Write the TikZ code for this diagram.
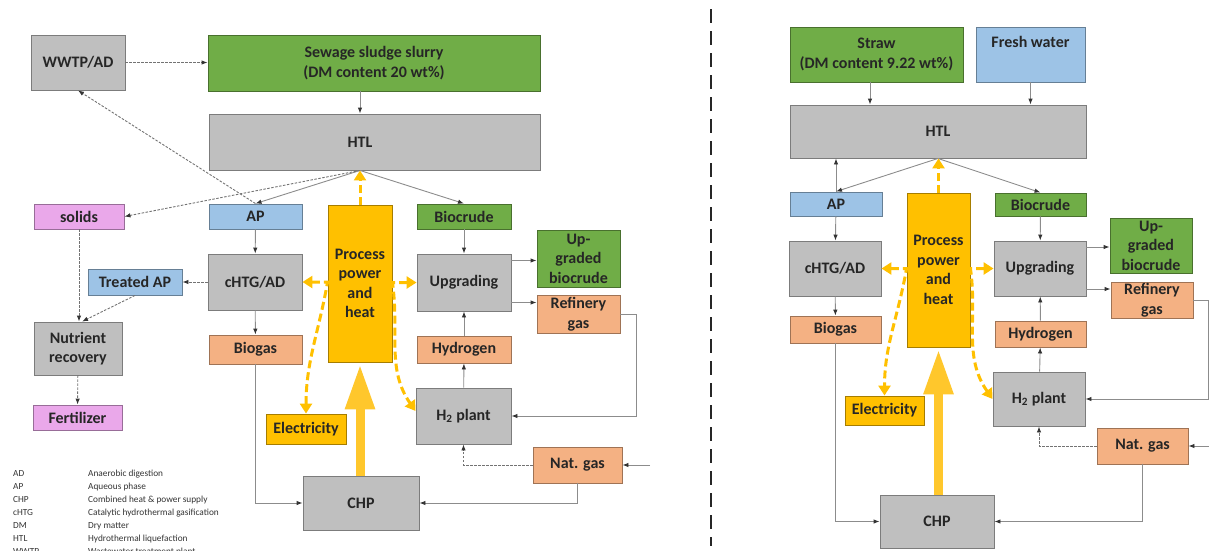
\documentclass[tikz,border=0pt]{standalone}
\usepackage{fontspec}
\setmainfont{Carlito}
\usepackage{tikz}
\usetikzlibrary{arrows.meta, positioning, calc}
\definecolor{boxgray}{HTML}{BFBFBF}
\definecolor{boxgreen}{HTML}{70AD47}
\definecolor{boxblue}{HTML}{9DC3E6}
\definecolor{boxpink}{HTML}{EAA8EA}
\definecolor{boxsalmon}{HTML}{F4B183}
\definecolor{boxyellow}{HTML}{FFC000}
\definecolor{heatarrow}{HTML}{FFC72C}

\tikzset{
  blk/.style={draw=#1!65!black, fill=#1, line width=0.9, inner sep=1,
    font=\fontsize{16}{19.5}\selectfont\bfseries, text=black!85, align=center},
  ftip/.tip={Latex[length=6,width=4.5,color=black!80]},
  htip/.tip={Triangle[length=10,width=12]},
  flowline/.style={draw=black!45, line width=0.9, -ftip},
  dotline/.style={draw=black!55, line width=0.9, dash pattern=on 2.5 off 1.5, -ftip},
  heatflow/.style={draw=boxyellow, line width=3, dash pattern=on 8 off 4},
  heatbig/.style={draw=heatarrow, line width=9, -{Triangle[length=45,width=28]}, shorten >=2},
  legtext/.style={anchor=west, inner sep=0, font=\fontsize{9.3}{11}\selectfont, text=black!80}
}

\begin{document}
\begin{tikzpicture}[x=1pt, y=1pt]
  \useasboundingbox (0,0) rectangle (1209,-550);

  %% sewage sludge case
  \node[blk=boxgray, minimum width=94, minimum height=55] (wwtp) at (78,-62.5) {WWTP/AD};
  \node[blk=boxgreen, minimum width=332, minimum height=56] (sludge) at (374,-63) {Sewage sludge slurry\\(DM content 20 wt\%)};
  \node[blk=boxgray, minimum width=331, minimum height=56] (htlL) at (374.5,-142) {HTL\hspace*{29pt}};
  \node[blk=boxpink, minimum width=90, minimum height=25] (solids) at (79,-216.5) {solids};
  \node[blk=boxblue, minimum width=93, minimum height=25] (apL) at (255.5,-216.5) {AP};
  \node[blk=boxyellow, minimum width=64, minimum height=157] (procL) at (360,-283.5) {Process\\power\\and\\heat};
  \node[blk=boxgreen, minimum width=94, minimum height=25] (biocL) at (464,-216.5) {Biocrude};
  \node[blk=boxgray, minimum width=94, minimum height=56] (chtgL) at (255,-282) {cHTG/AD};
  \node[blk=boxblue, minimum width=94, minimum height=26] (treated) at (135,-282) {Treated AP};
  \node[blk=boxgray, minimum width=88, minimum height=53] (nutrient) at (78,-348.5) {Nutrient\\recovery};
  \node[blk=boxpink, minimum width=89, minimum height=25] (fert) at (77.5,-417.5) {Fertilizer};
  \node[blk=boxgray, minimum width=94, minimum height=57] (upgL) at (464,-282.5) {Upgrading};
  \node[blk=boxgreen, minimum width=83, minimum height=57] (upbioL) at (578.5,-258.5) {Up-\\graded\\biocrude};
  \node[blk=boxsalmon, minimum width=83, minimum height=38] (refL) at (578.5,-314) {Refinery\\gas};
  \node[blk=boxsalmon, minimum width=93, minimum height=29] (biogasL) at (255.5,-349.5) {Biogas};
  \node[blk=boxsalmon, minimum width=94, minimum height=27] (hydL) at (464,-349.5) {Hydrogen};
  \node[blk=boxgray, minimum width=95, minimum height=56] (h2L) at (463.5,-416) {H\textsubscript{2} plant};
  \node[blk=boxyellow, minimum width=80, minimum height=30] (elecL) at (306,-429) {Electricity};
  \node[blk=boxsalmon, minimum width=89, minimum height=36] (natL) at (577.5,-465) {Nat. gas};
  \node[blk=boxgray, minimum width=116, minimum height=54] (chpL) at (361,-503) {CHP};
  \coordinate (htlLout) at (procL.north |- htlL.south);
  \coordinate (natinL) at (650,-465);

  \draw[dotline] (wwtp.east) -- (wwtp.east -| sludge.west);
  \draw[flowline] (sludge.south -| htlLout) -- (htlL.north -| htlLout);
  \draw[flowline] (htlLout) -- (apL.north);
  \draw[flowline] (htlLout) -- (biocL.north);
  \draw[dotline] (htlLout) -- (solids.east);
  \draw[dotline] (apL.north) -- (wwtp.south);
  \draw[heatflow, -htip] (procL.north) -- (htlLout);
  \draw[flowline] (apL) -- (chtgL);
  \draw[dotline] (chtgL) -- (treated);
  \draw[dotline] (solids.south) -- (solids.south |- nutrient.north);
  \draw[dotline] (treated.south) -- ([xshift=4]nutrient.north);
  \draw[dotline] (nutrient) -- (fert);
  \draw[flowline] (chtgL) -- (biogasL);
  \draw[flowline] (biogasL.south) |- (chpL.west);
  \draw[flowline] (biocL) -- (upgL);
  \draw[flowline] ([yshift=22]upgL.east) -- ([yshift=22]upgL.east -| upbioL.west);
  \draw[flowline] ([yshift=-20]upgL.east) -- ([yshift=-20]upgL.east -| refL.west);
  \draw[flowline] (refL.east) -- ++(16,0) |- (h2L.east);
  \draw[flowline] (hydL) -- (upgL);
  \draw[flowline] (h2L) -- (hydL);
  \draw[dotline] (natL.west) -| (h2L.south);
  \draw[flowline] (natinL) -- (natL.east);
  \draw[flowline] (natL.south) |- (chpL.east);
  \draw[heatbig] (chpL.north -| procL.south) -- (procL.south);
  \draw[heatflow, htip-htip] (chtgL.east) -- (procL.west |- chtgL.east) to[out=-100, in=90] (elecL.north);
  \draw[heatflow, htip-htip] (upgL.west) -- (procL.east |- upgL.west) to[out=-82, in=125] ([yshift=5]h2L.west);

  %% abbreviations
  \node[legtext] (abAD) at (13,-474) {AD};
  \node[legtext] (abADt) at (88,-474) {Anaerobic digestion};
  \node[legtext] (abAP) at (13,-487) {AP};
  \node[legtext] (abAPt) at (88,-487) {Aqueous phase};
  \node[legtext] (abCHP) at (13,-500) {CHP};
  \node[legtext] (abCHPt) at (88,-500) {Combined heat \& power supply};
  \node[legtext] (abcHTG) at (13,-513) {cHTG};
  \node[legtext] (abcHTGt) at (88,-513) {Catalytic hydrothermal gasification};
  \node[legtext] (abDM) at (13,-526) {DM};
  \node[legtext] (abDMt) at (88,-526) {Dry matter};
  \node[legtext] (abHTL) at (13,-539) {HTL};
  \node[legtext] (abHTLt) at (88,-539) {Hydrothermal liquefaction};
  \begin{scope}
    \clip (0,-544) rectangle (240,-550);
    \node[legtext] (abWWTP) at (13,-552) {WWTP};
    \node[legtext] (abWWTPt) at (88,-552) {Wastewater treatment plant};
  \end{scope}

  %% divider
  \draw[black!85, line width=2.5, dash pattern=on 14 off 8] (711,-9) -- (711,-546);

  %% straw case
  \node[blk=boxgreen, minimum width=173, minimum height=55] (straw) at (876.5,-54.5) {Straw\\(DM content 9.22 wt\%)};
  \node[blk=boxblue, minimum width=109, minimum height=55] (fresh) at (1030.5,-54.5) {Fresh water\\\strut};
  \node[blk=boxgray, minimum width=296, minimum height=53] (htlR) at (938,-131.5) {HTL};
  \node[blk=boxblue, minimum width=92, minimum height=24] (apR) at (836,-204) {AP};
  \node[blk=boxyellow, minimum width=63, minimum height=154] (procR) at (938.5,-270) {Process\\power\\and\\heat};
  \node[blk=boxgreen, minimum width=91, minimum height=23] (biocR) at (1040.5,-204.5) {Biocrude};
  \node[blk=boxgray, minimum width=92, minimum height=55] (chtgR) at (835,-268.5) {cHTG/AD};
  \node[blk=boxgray, minimum width=92, minimum height=55] (upgR) at (1040,-268.5) {Upgrading};
  \node[blk=boxgreen, minimum width=82, minimum height=55] (upbioR) at (1151,-245.5) {Up-\\graded\\biocrude};
  \node[blk=boxsalmon, minimum width=82, minimum height=36] (refR) at (1152,-300) {Refinery\\gas};
  \node[blk=boxsalmon, minimum width=91, minimum height=27] (biogasR) at (835.5,-329.5) {Biogas};
  \node[blk=boxsalmon, minimum width=91, minimum height=26] (hydR) at (1040.5,-334) {Hydrogen};
  \node[blk=boxyellow, minimum width=79, minimum height=29] (elecR) at (884.5,-410.5) {Electricity};
  \node[blk=boxgray, minimum width=92, minimum height=54] (h2R) at (1039,-399) {H\textsubscript{2} plant};
  \node[blk=boxsalmon, minimum width=91, minimum height=36] (natR) at (1142.5,-446) {Nat. gas};
  \node[blk=boxgray, minimum width=114, minimum height=53] (chpR) at (937,-521.5) {CHP};
  \coordinate (natinR) at (1212,-446);

  \draw[flowline] ([xshift=-6.5]straw.south) -- ([xshift=-6.5]straw.south |- htlR.north);
  \draw[flowline] (fresh.south) -- (fresh.south |- htlR.north);
  \draw[flowline] (htlR.south) -- (apR.north);
  \draw[flowline] (htlR.south) -- (biocR.north);
  \draw[flowline] (apR.north) -- (apR.north |- htlR.south);
  \draw[heatflow, -htip] (procR.north) -- (procR.north |- htlR.south);
  \draw[flowline] (apR) -- (chtgR);
  \draw[flowline] (chtgR) -- (biogasR);
  \draw[flowline] (biogasR.south) |- (chpR.west);
  \draw[flowline] (biocR) -- (upgR);
  \draw[flowline] ([yshift=21.5]upgR.east) -- ([yshift=21.5]upgR.east -| upbioR.west);
  \draw[flowline] ([yshift=-20.5]upgR.east) -- ([yshift=-20.5]upgR.east -| refR.west);
  \draw[flowline] (refR.east) -- ++(15,0) |- (h2R.east);
  \draw[flowline] (hydR) -- (upgR);
  \draw[flowline] (h2R) -- (hydR);
  \draw[dotline] (natR.west) -| (h2R.south);
  \draw[flowline] (natinR) -- (natR.east);
  \draw[flowline] (natR.south) |- (chpR.east);
  \draw[heatbig] (chpR.north -| procR.south) -- (procR.south);
  \draw[heatflow, htip-htip] (chtgR.east) -- (procR.west |- chtgR.east) to[out=-100, in=90] (elecR.north);
  \draw[heatflow, htip-htip] (upgR.west) -- (procR.east |- upgR.west) to[out=-82, in=125] (h2R.west);
\end{tikzpicture}
\end{document}
